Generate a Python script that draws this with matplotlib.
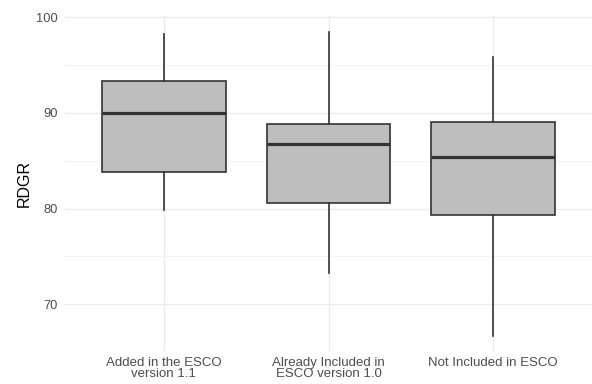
import matplotlib
matplotlib.use("Agg")
import matplotlib.pyplot as plt
from matplotlib.ticker import MultipleLocator

plt.rcParams['font.family'] = ['Liberation Sans', 'DejaVu Sans']

categories = ["Added in the ESCO\nversion 1.1", "Already Included in\nESCO version 1.0", "Not Included in ESCO"]
whisker_low = [79.8, 73.3, 66.7]
q1 = [83.8, 80.6, 79.3]
median = [90.0, 86.7, 85.4]
q3 = [93.3, 88.85, 89.1]
whisker_high = [98.2, 98.5, 95.8]

stats = []
for i, c in enumerate(categories):
    stats.append(dict(label=c, whislo=whisker_low[i], q1=q1[i], med=median[i],
                      q3=q3[i], whishi=whisker_high[i], fliers=[]))

fig = plt.figure(figsize=(5.92, 3.84), dpi=100)
ax = fig.add_axes([0.1098, 0.0859, 0.8902, 0.8716])

positions = list(range(1, len(categories) + 1))
ax.bxp(stats, positions=positions, widths=0.75, patch_artist=True, showfliers=False,
       showcaps=False,
       boxprops=dict(facecolor='#BEBEBE', edgecolor='#333333', linewidth=1.2),
       medianprops=dict(color='#333333', linewidth=2.3),
       whiskerprops=dict(color='#333333', linewidth=1.2),
       zorder=3)

ax.set_xlim(0.4, len(categories) + 0.6)
ax.set_ylim(65.1, 100.1)
ax.yaxis.set_major_locator(MultipleLocator(10))
ax.yaxis.set_minor_locator(MultipleLocator(5))
ax.set_xticks(positions)
ax.set_xticklabels(categories)

ax.grid(True, which='major', color='#EBEBEB', linewidth=1.0, zorder=0)
ax.grid(True, which='minor', axis='y', color='#F3F3F3', linewidth=0.8, zorder=0)
ax.set_axisbelow(True)
for s in ax.spines.values():
    s.set_visible(False)
ax.tick_params(axis='both', which='both', length=0, labelcolor='#4D4D4D')
ax.tick_params(axis='y', labelsize=9.3, pad=5)
ax.tick_params(axis='x', labelsize=9.5, pad=4)
for lab in ax.get_xticklabels():
    lab.set_linespacing(0.9)
ax.set_ylabel("RDGR", fontsize=11.5, color='black', labelpad=3)

fig.savefig("out.png", dpi=100, facecolor='white')
